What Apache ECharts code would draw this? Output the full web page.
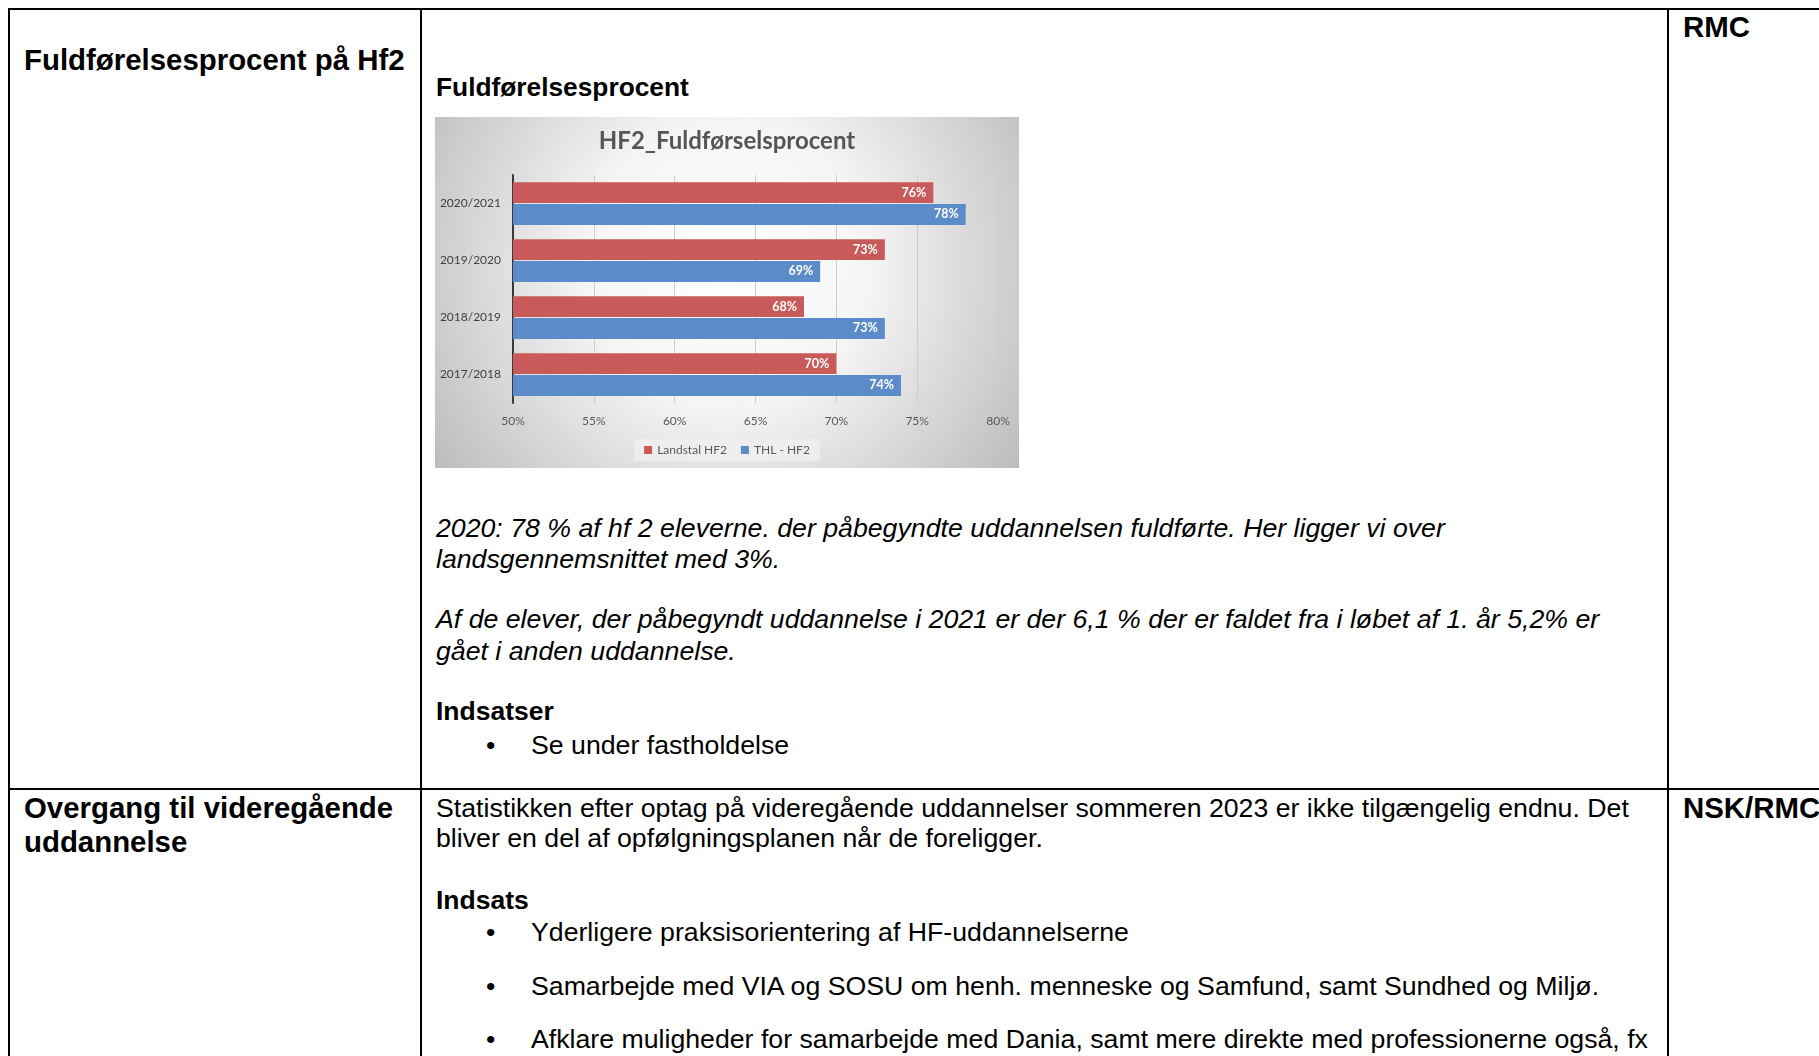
<!DOCTYPE html>
<html>
<head>
<meta charset="utf-8">
<script src="https://cdn.jsdelivr.net/npm/echarts@6/dist/echarts.min.js"></script>
<style>
  html, body { margin:0; padding:0; background:#fff; }
  body { width:1819px; height:1056px; overflow:hidden; position:relative; font-family:'Liberation Sans', Arial, sans-serif; color:#000; }
  .t { position:absolute; white-space:nowrap; }
  .b { font-weight:bold; }
  .i { font-style:italic; }
  .hl { position:absolute; background:#000; height:2px; }
  .vl { position:absolute; background:#000; width:2px; }
  #chart { position:absolute; left:435px; top:117px; width:584px; height:351px; }
</style>
</head>
<body>
<!-- table lines -->
<div class="hl" style="left:9px; top:8px; width:1810px;"></div>
<div class="hl" style="left:9px; top:788px; width:1810px;"></div>
<div class="vl" style="left:8px; top:8px; height:1048px;"></div>
<div class="vl" style="left:420px; top:8px; height:1048px;"></div>
<div class="vl" style="left:1667px; top:8px; height:1048px;"></div>

<!-- row 1 -->
<div class="t b" style="left:24px; top:43px; font-size:29.4px; line-height:34px;">Fuldførelsesprocent på Hf2</div>
<div class="t b" style="left:1683px; top:10px; font-size:29.4px; line-height:34px;">RMC</div>
<div class="t b" style="left:436px; top:72px; font-size:26.3px; line-height:30px;">Fuldførelsesprocent</div>
<div id="chart"></div>
<div class="t i" style="left:436px; top:513px; font-size:26.7px; line-height:31px;">2020: 78 % af hf 2 eleverne. der påbegyndte uddannelsen fuldførte. Her ligger vi over</div>
<div class="t i" style="left:436px; top:544px; font-size:26.7px; line-height:31px;">landsgennemsnittet med 3%.</div>
<div class="t i" style="left:436px; top:604px; font-size:26.7px; line-height:31px;">Af de elever, der påbegyndt uddannelse i 2021 er der 6,1 % der er faldet fra i løbet af 1. år 5,2% er</div>
<div class="t i" style="left:436px; top:636px; font-size:26.7px; line-height:31px;">gået i anden uddannelse.</div>
<div class="t b" style="left:436px; top:696px; font-size:26.5px; line-height:31px;">Indsatser</div>
<div class="t" style="left:486px; top:730px; font-size:26.7px; line-height:31px;">•</div>
<div class="t" style="left:531px; top:730px; font-size:26.7px; line-height:31px;">Se under fastholdelse</div>

<!-- row 2 -->
<div class="t b" style="left:24px; top:791px; font-size:29.4px; line-height:34px;">Overgang til videregående</div>
<div class="t b" style="left:24px; top:825px; font-size:29.4px; line-height:34px;">uddannelse</div>
<div class="t b" style="left:1683px; top:791px; font-size:29.4px; line-height:34px;">NSK/RMC</div>
<div class="t" style="left:436px; top:793px; font-size:26.7px; line-height:30px;">Statistikken efter optag på videregående uddannelser sommeren 2023 er ikke tilgængelig endnu. Det</div>
<div class="t" style="left:436px; top:823px; font-size:26.7px; line-height:30px;">bliver en del af opfølgningsplanen når de foreligger.</div>
<div class="t b" style="left:436px; top:885px; font-size:26.5px; line-height:30px;">Indsats</div>
<div class="t" style="left:486px; top:917px; font-size:26.7px; line-height:30px;">•</div>
<div class="t" style="left:531px; top:917px; font-size:26.7px; line-height:30px;">Yderligere praksisorientering af HF-uddannelserne</div>
<div class="t" style="left:486px; top:971px; font-size:26.7px; line-height:30px;">•</div>
<div class="t" style="left:531px; top:971px; font-size:26.7px; line-height:30px;">Samarbejde med VIA og SOSU om henh. menneske og Samfund, samt Sundhed og Miljø.</div>
<div class="t" style="left:486px; top:1024px; font-size:26.7px; line-height:30px;">•</div>
<div class="t" style="left:531px; top:1024px; font-size:26.7px; line-height:30px;">Afklare muligheder for samarbejde med Dania, samt mere direkte med professionerne også, fx</div>

<script>
const categories = ['2020/2021', '2019/2020', '2018/2019', '2017/2018'];
const landstalHF2 = [76, 73, 68, 70];
const thlHF2 = [78, 69, 73, 74];
const seriesNames = ['Landstal HF2', 'THL - HF2'];
const chartTitle = 'HF2_Fuldførselsprocent';
const xMin = 50, xMax = 80, xStep = 5;

const chart = echarts.init(document.getElementById('chart'));
const fam = 'Lato, "Open Sans", sans-serif';
const labelCfg = {
  show: true, position: 'insideRight', distance: 7,
  color: '#ffffff', fontWeight: 'bold', fontSize: 12.5, fontFamily: fam,
  formatter: p => p.value + '%'
};
chart.setOption({
  animation: false,
  backgroundColor: {
    type: 'radial', x: 0.5, y: 0.42, r: 1,
    colorStops: [
      { offset: 0, color: '#ffffff' },
      { offset: 0.4, color: '#f5f5f5' },
      { offset: 1, color: '#bdbdbd' }
    ]
  },
  title: {
    text: chartTitle, left: 'center', top: 7,
    textStyle: { fontFamily: fam, fontSize: 24, fontWeight: 'bold', color: '#555555' }
  },
  legend: {
    data: seriesNames, left: 'center', top: 322,
    icon: 'rect', itemWidth: 8, itemHeight: 8, itemGap: 14,
    backgroundColor: 'rgba(238,238,238,0.85)', padding: [5, 10],
    textStyle: { fontFamily: fam, fontSize: 12, color: '#595959' }
  },
  grid: { left: 78, right: 21, top: 58, height: 228, containLabel: false },
  xAxis: {
    type: 'value', min: xMin, max: xMax, interval: xStep,
    axisLine: { show: false }, axisTick: { show: false },
    axisLabel: { formatter: v => v + '%', fontFamily: fam, fontSize: 12, color: '#595959', margin: 12 },
    splitLine: { show: true, lineStyle: { color: '#cccccc', width: 1 } }
  },
  yAxis: {
    type: 'category', data: categories, inverse: true,
    axisLine: { show: true, lineStyle: { color: '#3a3a3a', width: 2 } },
    axisTick: { show: false },
    axisLabel: { fontFamily: fam, fontSize: 12, color: '#404040', margin: 12 }
  },
  series: [
    { name: seriesNames[0], type: 'bar', data: landstalHF2, barGap: '5%', barCategoryGap: '25%',
      itemStyle: { color: '#c95a5a' }, label: labelCfg },
    { name: seriesNames[1], type: 'bar', data: thlHF2, barGap: '5%', barCategoryGap: '25%',
      itemStyle: { color: '#5b8cc9' }, label: labelCfg }
  ]
});
</script>
</body>
</html>
